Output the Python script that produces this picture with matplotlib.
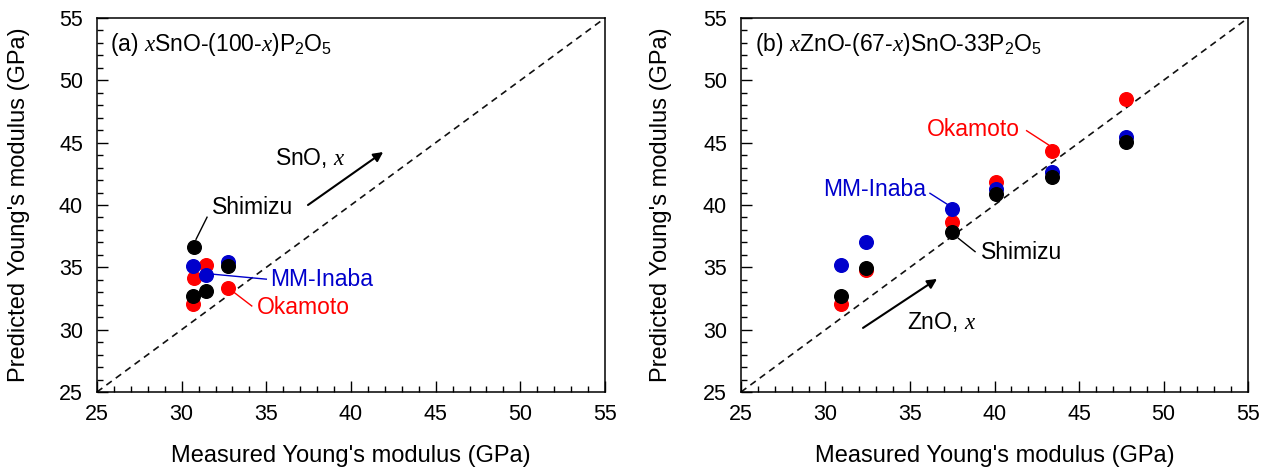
import matplotlib
matplotlib.use("Agg")
import matplotlib.pyplot as plt
from matplotlib.ticker import MultipleLocator

plt.rcParams['font.family'] = ['Liberation Sans', 'DejaVu Sans']
plt.rcParams['mathtext.fontset'] = 'custom'
plt.rcParams['mathtext.rm'] = 'Liberation Sans'
plt.rcParams['mathtext.it'] = 'Liberation Serif:italic'

RED = '#ff0000'
BLUE = '#0000cc'
BLACK = '#000000'

# ---- Panel (a): xSnO-(100-x)P2O5 ----
a_okamoto_x = [30.65, 30.73, 31.44, 32.76]
a_okamoto_y = [32.09, 34.17, 35.19, 33.37]
a_inaba_x = [30.65, 31.44, 32.76]
a_inaba_y = [35.14, 34.39, 35.41]
a_shimizu_x = [30.65, 30.73, 31.44, 32.76]
a_shimizu_y = [32.73, 36.61, 33.11, 35.14]

# ---- Panel (b): xZnO-(67-x)SnO-33P2O5 ----
b_measured = [30.9, 32.4, 37.5, 40.1, 43.4, 47.8]
b_okamoto = [32.07, 34.80, 38.61, 41.82, 44.33, 48.48]
b_inaba = [35.19, 37.06, 39.68, 41.26, 42.68, 45.48]
b_shimizu = [32.71, 34.93, 37.81, 40.86, 42.22, 45.08]

axis_min, axis_max = 25, 55
tick_labels = ['25', '30', '35', '40', '45', '50', '55']

fig = plt.figure(figsize=(12.66, 4.69), dpi=100)
axA = fig.add_axes([0.0766, 0.1642, 0.4013, 0.7974])
axB = fig.add_axes([0.5853, 0.1642, 0.4005, 0.7974])

MS = 9.8
FS_TICK = 15.5
FS_LAB = 17
FS_ANN = 16.5


def style(ax, ylab_x):
    ax.set_xlim(axis_min, axis_max)
    ax.set_ylim(axis_min, axis_max)
    ticks = list(range(axis_min, axis_max + 1, 5))
    ax.set_xticks(ticks)
    ax.set_yticks(ticks)
    ax.set_xticklabels(tick_labels)
    ax.set_yticklabels(tick_labels)
    ax.xaxis.set_minor_locator(MultipleLocator(1))
    ax.yaxis.set_minor_locator(MultipleLocator(1))
    ax.tick_params(which='both', direction='in', top=False, right=False,
                   width=1.0, labelsize=FS_TICK)
    ax.tick_params(axis='x', which='major', length=8, pad=9)
    ax.tick_params(axis='y', which='major', length=8, pad=10)
    ax.tick_params(which='minor', length=4)
    for s in ax.spines.values():
        s.set_linewidth(1.1)
    ax.set_xlabel("Measured Young's modulus (GPa)", fontsize=FS_LAB)
    ax.set_ylabel("Predicted Young's modulus (GPa)", fontsize=FS_LAB)
    ax.xaxis.label.set_va('center')
    ax.yaxis.label.set_va('center')
    ax.xaxis.set_label_coords(0.5, -0.171)
    ax.yaxis.set_label_coords(ylab_x, 0.5)
    ax.plot([axis_min, axis_max], [axis_min, axis_max], ls=(0, (4, 3)),
            color='#111111', lw=1.2, zorder=1)


style(axA, -0.153)
style(axB, -0.158)

# Panel (a)
axA.plot(a_okamoto_x, a_okamoto_y, 'o', color=RED, ms=MS, zorder=3)
axA.plot(a_inaba_x, a_inaba_y, 'o', color=BLUE, ms=MS, zorder=4)
axA.plot(a_shimizu_x, a_shimizu_y, 'o', color=BLACK, ms=MS, zorder=5)

axA.text(0.026, 0.928, r'(a) $x$SnO-(100-$x$)P$_2$O$_5$', transform=axA.transAxes,
         fontsize=FS_ANN, va='center', ha='left')
axA.plot([30.85, 31.5], [37.25, 39.02], color=BLACK, lw=1.0, zorder=2)
axA.text(31.8, 39.76, 'Shimizu', color=BLACK, fontsize=FS_ANN, va='center', ha='left')
axA.plot([31.68, 35.0], [34.47, 34.05], color=BLUE, lw=1.0, zorder=2)
axA.text(35.25, 34.05, 'MM-Inaba', color=BLUE, fontsize=FS_ANN, va='center', ha='left')
axA.plot([32.96, 34.14], [33.13, 31.9], color=RED, lw=1.0, zorder=2)
axA.text(34.45, 31.8, 'Okamoto', color=RED, fontsize=FS_ANN, va='center', ha='left')
axA.text(35.5, 43.8, r'SnO, $x$', color=BLACK, fontsize=FS_ANN, va='center', ha='left')
axA.annotate('', xy=(41.9, 44.25), xytext=(37.46, 40.0),
             arrowprops=dict(arrowstyle='-|>', color=BLACK, lw=1.5,
                             mutation_scale=14, shrinkA=0, shrinkB=0))

# Panel (b)
axB.plot(b_measured, b_okamoto, 'o', color=RED, ms=MS, zorder=3)
axB.plot(b_measured, b_inaba, 'o', color=BLUE, ms=MS, zorder=4)
axB.plot(b_measured, b_shimizu, 'o', color=BLACK, ms=MS, zorder=5)

axB.text(0.028, 0.928, r'(b) $x$ZnO-(67-$x$)SnO-33P$_2$O$_5$', transform=axB.transAxes,
         fontsize=FS_ANN, va='center', ha='left')
axB.plot([41.9, 43.2], [45.96, 44.82], color=RED, lw=1.0, zorder=2)
axB.text(41.5, 46.07, 'Okamoto', color=RED, fontsize=FS_ANN, va='center', ha='right')
axB.plot([36.18, 37.27], [40.94, 40.0], color=BLUE, lw=1.0, zorder=2)
axB.text(29.84, 41.21, 'MM-Inaba', color=BLUE, fontsize=FS_ANN, va='center', ha='left')
axB.plot([37.86, 38.85], [37.33, 36.26], color=BLACK, lw=1.0, zorder=2)
axB.text(39.18, 36.18, 'Shimizu', color=BLACK, fontsize=FS_ANN, va='center', ha='left')
axB.text(34.8, 30.6, r'ZnO, $x$', color=BLACK, fontsize=FS_ANN, va='center', ha='left')
axB.annotate('', xy=(36.6, 34.07), xytext=(32.22, 30.14),
             arrowprops=dict(arrowstyle='-|>', color=BLACK, lw=1.5,
                             mutation_scale=14, shrinkA=0, shrinkB=0))

fig.savefig('out.png', dpi=100)
